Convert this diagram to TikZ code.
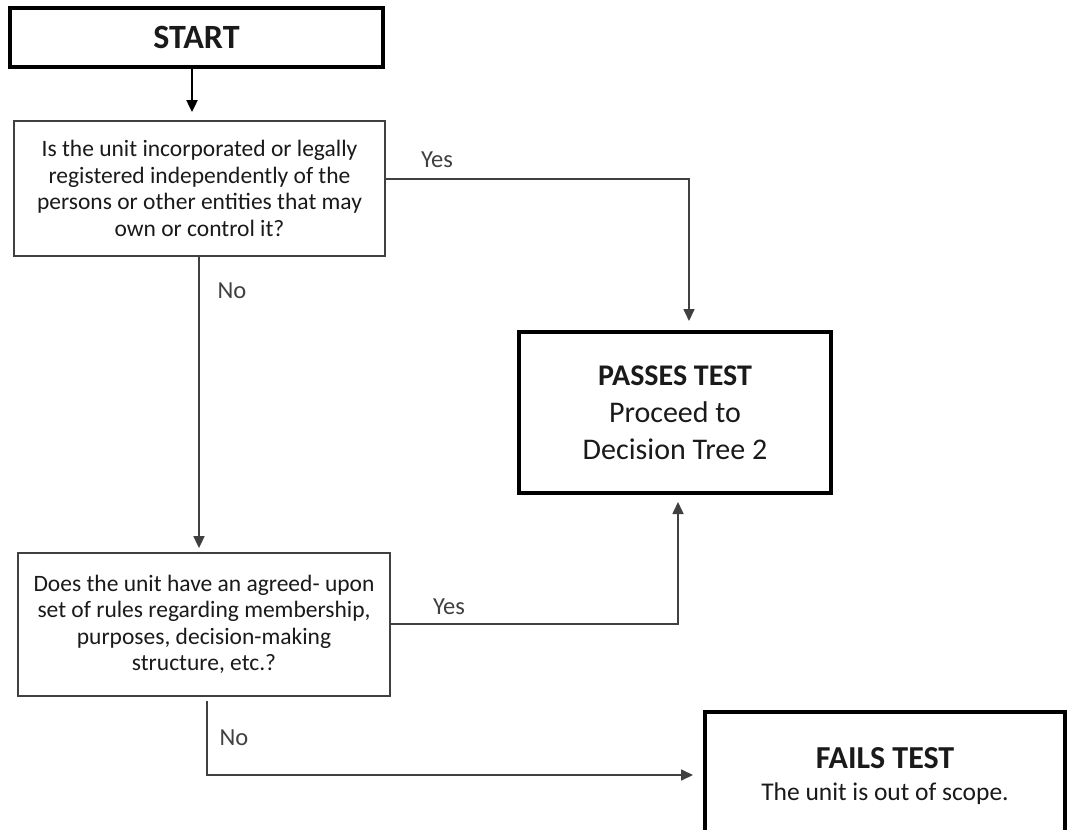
\documentclass[tikz,border=0pt]{standalone}
\usepackage{fontspec}
\setmainfont{Carlito}
\usetikzlibrary{arrows.meta}
\definecolor{linegray}{HTML}{404040}
\definecolor{txt}{HTML}{1A1A1A}
\tikzset{
  thickbox/.style={draw=black, line width=4pt, fill=white, inner sep=0pt, text=txt, align=center},
  qbox/.style={draw=linegray, line width=1.8pt, fill=white, inner sep=0pt, text=txt, align=center,
     font=\fontsize{23.5}{26.5}\selectfont},
  conn/.style={draw=linegray, line width=1.7pt, -{Triangle[length=12pt,width=11pt]}},
  lbl/.style={text=linegray, font=\fontsize{24.5}{28}\selectfont, inner sep=0pt}
}
\begin{document}
\begin{tikzpicture}[x=1pt,y=-1pt]
\clip (0,0) rectangle (1067,829);
\fill[white] (0,0) rectangle (1067,829);
% nodes
\node[thickbox, minimum width=373pt, minimum height=59pt, font=\fontsize{34}{38}\selectfont\bfseries] (start) at (196.5,37.5) {START};
\node[qbox, minimum width=371pt, minimum height=135pt] (q1) at (199.5,188.5)
  {Is the unit incorporated or legally\\registered independently of the\\persons or other entities that may\\own or control it?};
\node[thickbox, minimum width=312pt, minimum height=161pt, font=\fontsize{30}{37}\selectfont] (pass) at (675,412.5)
  {\textbf{PASSES TEST}\\Proceed to\\Decision Tree 2};
\node[qbox, minimum width=372pt, minimum height=143pt] (q2) at (204,624.5)
  {Does the unit have an agreed- upon\\set of rules regarding membership,\\purposes, decision-making\\structure, etc.?};
\node[thickbox, minimum width=360pt, minimum height=128pt, font=\fontsize{25.5}{32}\selectfont] (fails) at (885,776)
  {{\fontsize{32}{32}\selectfont\bfseries FAILS TEST}\\The unit is out of scope.};
% helper coordinates
\coordinate (xa) at (192,0);
\coordinate (xb) at (689,179);
\coordinate (xc) at (199,0);
\coordinate (xd) at (678,624);
\coordinate (xe) at (207,775);
% connectors
\draw[conn, draw=black, line width=2pt] (start.south -| xa) -- ([yshift=8pt]q1.north -| xa);
\draw[conn] (q1.east |- xb) -- (xb) -- ([yshift=9pt]pass.north -| xb);
\draw[conn] (q1.south -| xc) -- ([yshift=4pt]q2.north -| xc);
\draw[conn] (q2.east |- xd) -- (xd) -- ([yshift=-7pt]pass.south -| xd);
\draw[conn] ([yshift=-4pt]q2.south -| xe) -- (xe) -- ([xshift=-10pt]fails.west |- xe);
% labels
\node[lbl] (y1) at (437,160) {Yes};
\node[lbl] (n1) at (232,291) {No};
\node[lbl] (y2) at (449,607) {Yes};
\node[lbl] (n2) at (234,738) {No};
\end{tikzpicture}
\end{document}
